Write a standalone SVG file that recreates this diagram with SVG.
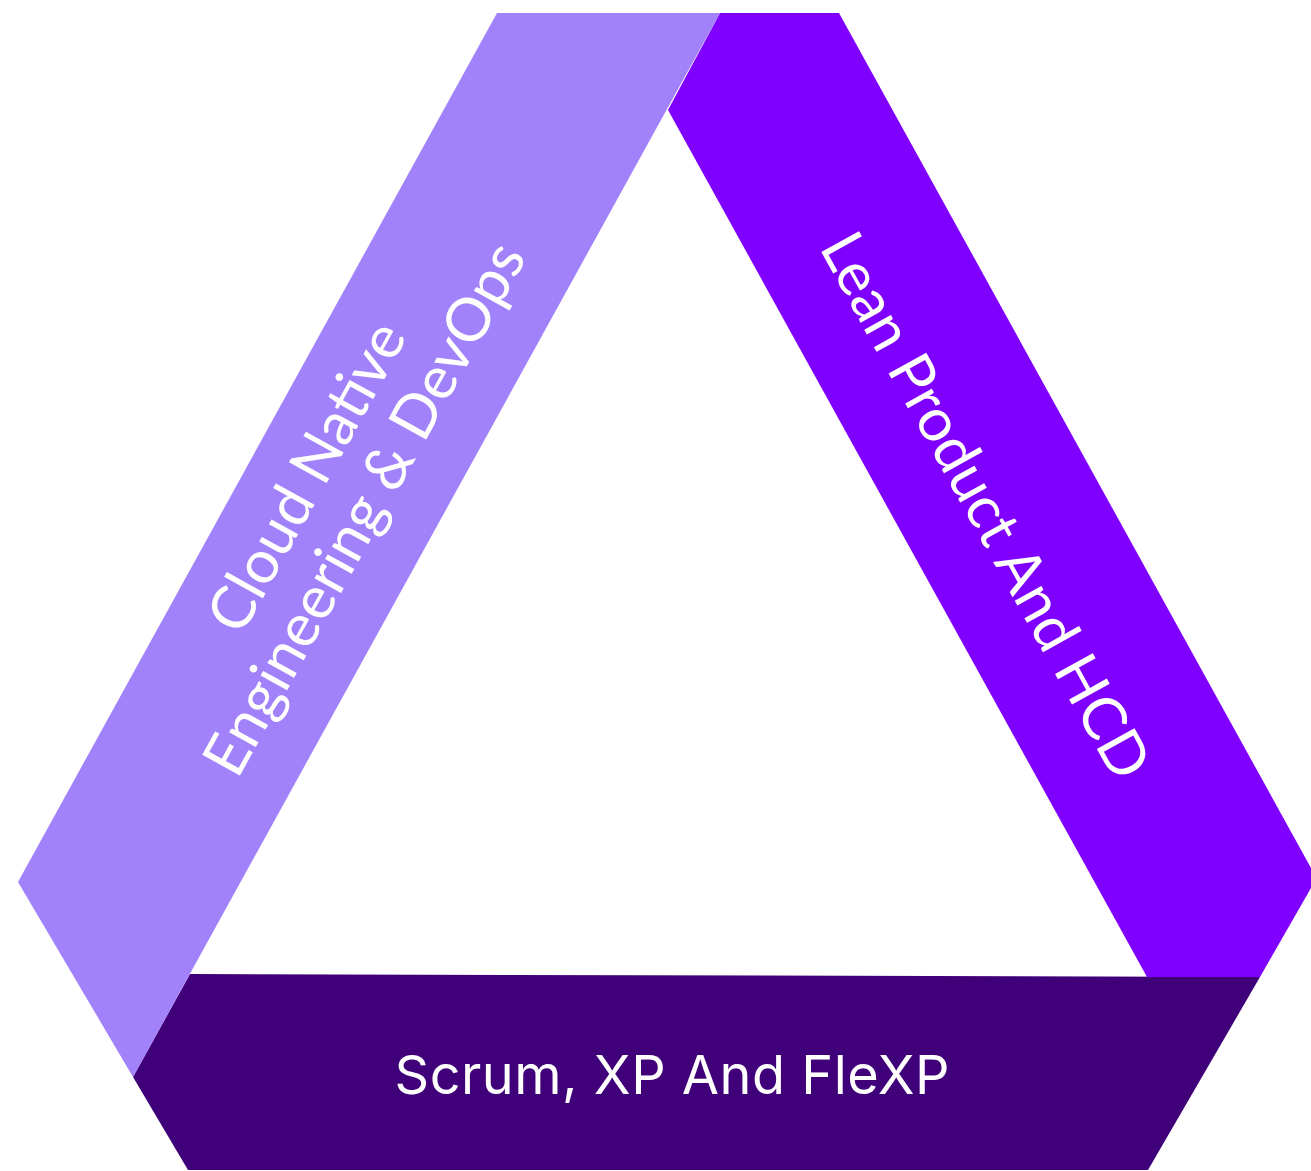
<svg xmlns="http://www.w3.org/2000/svg" width="1311" height="1171" viewBox="0 0 1311 1171">
  <style>
    .lbl { fill: #ffffff; font-family: Lato, "Open Sans", "Liberation Sans", sans-serif; font-weight: 400; font-size: 60px; text-anchor: middle; }
    .bot { fill: #ffffff; font-family: Inter, Roboto, "Liberation Sans", sans-serif; font-size: 54px; text-anchor: middle; }
  </style>
  <rect width="1311" height="1171" fill="#ffffff"/>
  <g id="scrum">
    <polygon points="190,974 1260,977 1148,1170 188,1170 133,1077" fill="#3F0079"/>
    <text class="bot" x="672" y="1094" textLength="555" lengthAdjust="spacing">Scrum, XP And FleXP</text>
  </g>
  <g id="lean">
    <polygon points="720,13 839,13 1311,868 1311,888 1260,977 1147,977 668,110" fill="#8000FF"/>
    <g transform="translate(985,506) rotate(61)">
      <text class="lbl" x="0" y="20">Lean Product And HCD</text>
    </g>
  </g>
  <g id="cloud">
    <polygon points="497,13 720,13 133,1077 18,882" fill="#A182FA"/>
    <g transform="translate(336,493) rotate(-61)">
      <text class="lbl" x="0" y="-13">Cloud Native</text>
      <text class="lbl" x="0" y="53">Engineering &amp; DevOps</text>
    </g>
  </g>
  <g id="connectors"/>
</svg>
